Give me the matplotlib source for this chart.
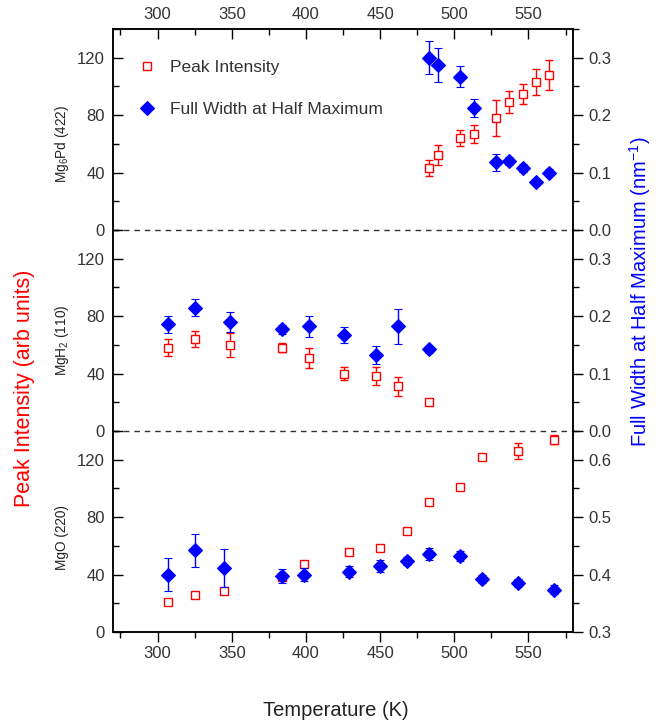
import matplotlib
matplotlib.use('Agg')
import matplotlib.pyplot as plt
from matplotlib.ticker import MultipleLocator
from matplotlib.lines import Line2D
from matplotlib import font_manager

plt.rcParams['font.family'] = ['Liberation Sans', 'DejaVu Sans']
plt.rcParams['mathtext.fontset'] = 'custom'
plt.rcParams['mathtext.rm'] = 'Liberation Sans'
plt.rcParams['mathtext.it'] = 'Liberation Sans:italic'
plt.rcParams['mathtext.default'] = 'regular'

# ---------------- data ----------------
# Mg6Pd (422)
T_top = [483, 489, 504, 513, 528, 537, 546, 555, 564]
I_top = [43, 52, 64, 67, 78, 89, 95, 103, 108]
Ierr_top = [5.6, 7.0, 5.8, 6.3, 12.6, 7.7, 7.0, 9.0, 10.2]
W_top = [0.300, 0.287, 0.267, 0.212, 0.118, 0.120, 0.108, 0.084, 0.100]
Werr_top = [0.029, 0.030, 0.018, 0.016, 0.015, 0.0064, 0.007, 0.004, 0.0064]

# MgH2 (110)
T_mid = [307, 325, 349, 384, 402, 426, 447, 462, 483]
I_mid = [58, 64, 60, 58, 51, 40, 38, 31, 20]
Ierr_mid = [6.0, 5.8, 8.5, 3.0, 7.0, 4.8, 6.3, 6.6, 1.0]
W_mid = [0.186, 0.215, 0.190, 0.177, 0.182, 0.167, 0.132, 0.182, 0.142]
Werr_mid = [0.015, 0.015, 0.018, 0.008, 0.018, 0.0145, 0.016, 0.030, 0.0065]

# MgO (220)
T_bot = [307, 325, 345, 384, 399, 429, 450, 468, 483, 504, 519, 543, 567]
I_bot = [21, 25.5, 28.5, 38, 47.5, 56, 58.5, 70.5, 90.5, 101, 122, 126, 134]
Ierr_bot = [1, 1, 1.5, 1.5, 1.5, 1, 1, 1, 1.5, 1.5, 1.5, 5.5, 3]
W_bot = [0.400, 0.442, 0.412, 0.398, 0.400, 0.405, 0.415, 0.423, 0.436, 0.432, 0.393, 0.385, 0.374]
Werr_bot = [0.028, 0.028, 0.033, 0.012, 0.011, 0.010, 0.010, 0.007, 0.010, 0.009, 0.007, 0.007, 0.0075]

panel_labels = ['Mg$_6$Pd (422)', 'MgH$_2$ (110)', 'MgO (220)']
left_ticks = [0, 40, 80, 120]
right_ticks_upper = [0.0, 0.1, 0.2, 0.3]
right_ticks_lower = [0.3, 0.4, 0.5, 0.6]
x_ticks = [300, 350, 400, 450, 500, 550]

# narrow font for the panel labels, if available
names = {f.name for f in font_manager.fontManager.ttflist}
if 'Liberation Sans Narrow' in names:
    NARROW, NSIZE = 'Liberation Sans Narrow', 11.5
else:
    NARROW, NSIZE = 'Liberation Sans', 9.8

# ---------------- layout ----------------
W, H = 657, 723
fig = plt.figure(figsize=(W / 100, H / 100), dpi=100)
fig.patch.set_facecolor('white')


def fx(px):
    return px / W


def fy(py):
    return 1 - py / H


L, R, TOP, BOT = 113, 573, 29, 632
ph = (BOT - TOP) / 3.0
TXT = '#333333'
RED = '#ff0000'
BLUE = '#0000ff'
SPW = 1.1

data = [
    (T_top, I_top, Ierr_top, W_top, Werr_top, (0, 0.35), right_ticks_upper),
    (T_mid, I_mid, Ierr_mid, W_mid, Werr_mid, (0, 0.35), right_ticks_upper),
    (T_bot, I_bot, Ierr_bot, W_bot, Werr_bot, (0.3, 0.65), right_ticks_lower),
]
label_centers = [144, 340, 537]

for i, (Tx, Iy, Ie, Wy, We, rlim, rticks) in enumerate(data):
    top_px = TOP + i * ph
    ax = fig.add_axes([fx(L), fy(top_px + ph), (R - L) / W, ph / H])
    ax.patch.set_visible(False)
    ax2 = ax.twinx()
    ax2.patch.set_visible(False)

    ax.errorbar(Tx, Iy, yerr=Ie, fmt='s', ms=5.2, mfc='white', mec=RED, mew=1.0,
                ecolor=RED, elinewidth=1.0, capsize=2.6, capthick=1.0, zorder=3)
    ax2.errorbar(Tx, Wy, yerr=We, fmt='D', ms=7.0, mfc=BLUE, mec=BLUE, mew=0.8,
                 ecolor=BLUE, elinewidth=1.0, capsize=2.6, capthick=1.0, zorder=3)

    ax.set_xlim(270, 580)
    ax.set_ylim(0, 140)
    ax2.set_ylim(*rlim)
    ax.set_yticks(left_ticks)
    ax.yaxis.set_minor_locator(MultipleLocator(20))
    ax2.set_yticks(rticks)
    ax2.yaxis.set_minor_locator(MultipleLocator(0.05))
    ax2.set_yticklabels([f'{v:.1f}' for v in rticks])

    ax.tick_params(axis='y', which='both', direction='in', left=True, right=False,
                   labelsize=12, labelcolor=TXT, pad=6, width=1.0)
    ax.tick_params(axis='y', which='major', length=7)
    ax.tick_params(axis='y', which='minor', length=4)
    ax2.tick_params(axis='y', which='both', direction='out', right=True, left=False,
                    labelsize=12, labelcolor=TXT, pad=4, width=1.0)
    ax2.tick_params(axis='y', which='major', length=7)
    ax2.tick_params(axis='y', which='minor', length=4)
    ax2.tick_params(axis='x', which='both', top=False, bottom=False,
                    labeltop=False, labelbottom=False)

    ax.set_xticks(x_ticks)
    ax.xaxis.set_minor_locator(MultipleLocator(25))
    if i == 0:
        ax.tick_params(axis='x', which='both', direction='in', top=True, bottom=False,
                       labeltop=True, labelbottom=False, labelsize=12,
                       labelcolor=TXT, pad=5, width=1.0)
        ax.tick_params(axis='x', which='major', length=7)
        ax.tick_params(axis='x', which='minor', length=4)
    elif i == 2:
        ax.tick_params(axis='x', which='both', direction='out', top=False, bottom=True,
                       labeltop=False, labelbottom=True, labelsize=12,
                       labelcolor=TXT, pad=3, width=1.0)
        ax.tick_params(axis='x', which='major', length=7)
        ax.tick_params(axis='x', which='minor', length=4)
    else:
        ax.tick_params(axis='x', which='both', top=False, bottom=False,
                       labeltop=False, labelbottom=False)

    for a in (ax, ax2):
        for s in a.spines.values():
            s.set_linewidth(SPW)
            s.set_color('black')
        if i in (0, 1):
            a.spines['bottom'].set_visible(False)
        if i in (1, 2):
            a.spines['top'].set_visible(False)

    if i in (0, 1):
        ax.axhline(0, color='#333333', lw=1.0, ls=(0, (4, 3.5)), zorder=1,
                   clip_on=False)

    fig.text(fx(62), fy(label_centers[i]), panel_labels[i], rotation=90,
             ha='center', va='center', fontsize=NSIZE, color='#222222',
             family=[NARROW, 'Liberation Sans', 'DejaVu Sans'])

    if i == 0:
        handles = [
            Line2D([], [], ls='none', marker='s', ms=5.2, mfc='white', mec=RED, mew=1.0),
            Line2D([], [], ls='none', marker='D', ms=7.0, mfc=BLUE, mec=BLUE, mew=0.8),
        ]
        leg = ax2.legend(handles, ['Peak Intensity', 'Full Width at Half Maximum'],
                         loc='upper left', bbox_to_anchor=(0.056, 0.845),
                         frameon=False, fontsize=12.5, borderpad=0, borderaxespad=0,
                         handlelength=1.0, handletextpad=0.8, labelspacing=1.52)
        for t in leg.get_texts():
            t.set_color(TXT)

fig.text(fx(335.5), fy(711), 'Temperature (K)', ha='center', va='center',
         fontsize=14.5, color='#222222')
fig.text(fx(25), fy(388), 'Peak Intensity (arb units)', rotation=90,
         ha='center', va='center', fontsize=15.5, color=RED)
fig.text(fx(640), fy(292), 'Full Width at Half Maximum (nm$^{-1}$)', rotation=90,
         ha='center', va='center', fontsize=14.5, color=BLUE)

fig.savefig('out.png', dpi=100, facecolor='white')
